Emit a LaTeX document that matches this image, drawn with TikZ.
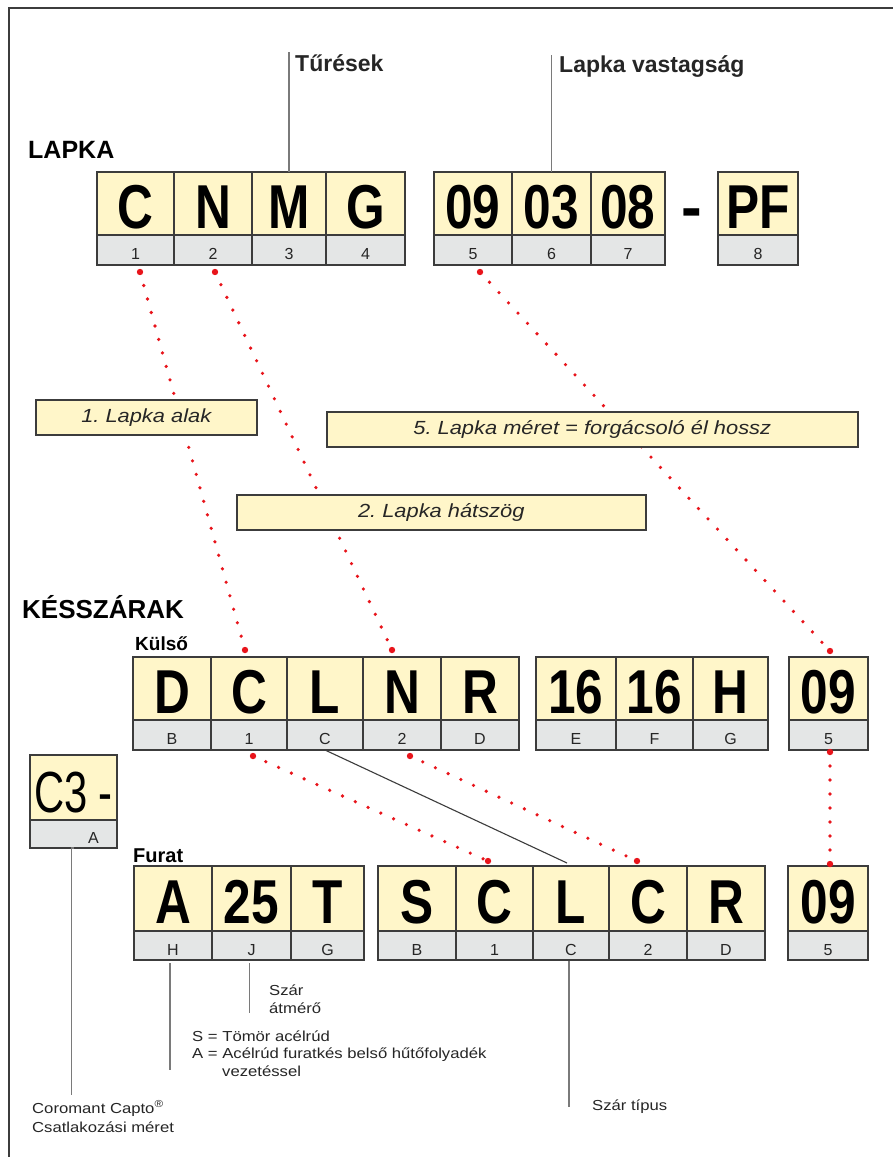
\documentclass[tikz,border=0pt]{standalone}
\usepackage{fontspec}
\usepackage{graphicx}
\setmainfont{Liberation Sans}
\newfontfamily\widef[FakeStretch=1.15]{Liberation Sans}
\usetikzlibrary{calc}
\definecolor{cellyellow}{HTML}{FFF6C9}
\definecolor{cellgray}{HTML}{E4E6E6}
\definecolor{edge}{HTML}{3C3C3C}
\definecolor{dotred}{HTML}{E8141B}
\definecolor{ink}{HTML}{262626}
\definecolor{leader}{HTML}{7A7A7A}
\newcommand\bigf{\fontsize{62}{62}\selectfont\bfseries}
\newcommand\bigfr{\fontsize{58}{58}\selectfont}
\newcommand\lblf{\fontsize{16}{16}\selectfont}
\newcommand\boxf{\frenchspacing\widef\fontsize{19}{19}\selectfont\itshape}
\newcommand\smallf{\widef\fontsize{14.5}{14.5}\selectfont}
% name, x, top, mid, bottom, width, letter, label
\newcommand\mkcell[8]{%
  \node[lcell, minimum width=#6, minimum height=#4-#3] (#1) at (#2,#3) {\scalebox{0.8}[1]{#7}};
  \node[ncell, minimum width=#6, minimum height=#5-#4] (#1n) at (#2,#4) {#8};
}
\begin{document}
\frenchspacing
\begin{tikzpicture}[x=1pt,y=-1pt,
  lcell/.style={draw=edge, fill=cellyellow, line width=1.3pt, anchor=north west, inner sep=0pt, outer sep=0pt, text height=50pt, text depth=0pt, font=\bigf, text=black},
  ncell/.style={draw=edge, fill=cellgray, line width=1.3pt, anchor=north west, inner sep=0pt, outer sep=0pt, text height=19pt, text depth=0pt, font=\lblf, text=ink},
  infobox/.style={draw=edge, fill=cellyellow, line width=1.5pt, anchor=north west, inner sep=0pt, font=\boxf, text=ink},
  heading/.style={anchor=base west, inner sep=0pt, text=black},
  note/.style={anchor=base west, inner sep=0pt, font=\smallf, text=ink},
  reddots/.style={draw=dotred, line width=3.6pt, line cap=round, dash pattern=on 0pt off 14pt},
  enddot/.style={fill=dotred},
  leaderline/.style={draw=leader, line width=1.2pt}
]
\useasboundingbox (0,0) rectangle (893,1157);
\fill[white] (0,0) rectangle (893,1157);
% frame
\draw[edge, line width=2pt] (9,1157) -- (9,8) -- (893,8);

% ---- LAPKA row
\mkcell{L1}{97}{172}{235}{265}{77}{C}{1}
\mkcell{L2}{174}{172}{235}{265}{78}{N}{2}
\mkcell{L3}{252}{172}{235}{265}{74}{M}{3}
\mkcell{L4}{326}{172}{235}{265}{79}{G}{4}
\mkcell{L5}{434}{172}{235}{265}{78}{09}{5}
\mkcell{L6}{512}{172}{235}{265}{79}{03}{6}
\mkcell{L7}{591}{172}{235}{265}{74}{08}{7}
\mkcell{L8}{718}{172}{235}{265}{80}{PF}{8}
\node[anchor=base, inner sep=0pt, font=\bigf] (dash) at (692,228) {-};

% ---- Kulso row
\mkcell{K1}{133}{657}{720}{750}{78}{D}{B}
\mkcell{K2}{211}{657}{720}{750}{76}{C}{1}
\mkcell{K3}{287}{657}{720}{750}{76}{L}{C}
\mkcell{K4}{363}{657}{720}{750}{78}{N}{2}
\mkcell{K5}{441}{657}{720}{750}{78}{R}{D}
\mkcell{K6}{536}{657}{720}{750}{80}{16}{E}
\mkcell{K7}{616}{657}{720}{750}{77}{16}{F}
\mkcell{K8}{693}{657}{720}{750}{75}{H}{G}
\mkcell{K9}{789}{657}{720}{750}{79}{09}{5}

% ---- C3- cell
\node[lcell, font=\bigfr, minimum width=87, minimum height=65] (C3) at (30,755) {\scalebox{0.72}[1]{C3 -}};
\node[ncell, minimum width=87, minimum height=28] (C3n) at (30,820) {\hspace*{40pt}A};

% ---- Furat row
\mkcell{FA}{134}{866}{931}{960}{78}{A}{H}
\mkcell{FB}{212}{866}{931}{960}{79}{25}{J}
\mkcell{FC}{291}{866}{931}{960}{73}{T}{G}
\mkcell{S1}{378}{866}{931}{960}{78}{S}{B}
\mkcell{S2}{456}{866}{931}{960}{77}{C}{1}
\mkcell{S3}{533}{866}{931}{960}{76}{L}{C}
\mkcell{S4}{609}{866}{931}{960}{78}{C}{2}
\mkcell{S5}{687}{866}{931}{960}{78}{R}{D}
\mkcell{S6}{788}{866}{931}{960}{80}{09}{5}

% ---- dotted connectors
\coordinate (d1a) at ($(L1n.south)+(4.5,7)$);
\coordinate (d1b) at ($(K2.north)+(-4,-7)$);
\coordinate (d2a) at ($(L2n.south)+(2,7)$);
\coordinate (d2b) at ($(K4.north)+(-10,-7)$);
\coordinate (d5a) at ($(L5n.south)+(7,7)$);
\coordinate (d5b) at ($(K9.north)+(1.5,-6)$);
\coordinate (e1a) at ($(K2n.south)+(4,6)$);
\coordinate (e1b) at ($(S2.north)+(-6.5,-5)$);
\coordinate (e2a) at ($(K4n.south)+(8,6)$);
\coordinate (e2b) at ($(S4.north)+(-11,-5)$);
\coordinate (e5a) at ($(K9n.south)+(1.5,2)$);
\coordinate (e5b) at ($(S6.north)+(2,-2)$);
\draw[reddots] (d1a) -- (d1b);
\draw[reddots] (d2a) -- (d2b);
\draw[reddots] (d5a) -- (d5b);
\draw[reddots] (e1a) -- (e1b);
\draw[reddots] (e2a) -- (e2b);
\draw[reddots] (e5a) -- (e5b);
\foreach \p in {d1a,d1b,d2a,d2b,d5a,d5b,e1a,e1b,e2a,e2b,e5a,e5b}
  \fill[enddot] (\p) circle (3.2);

% solid connector Kulso L -> Furat L
\draw[draw=edge, line width=1.1pt] (K3n.south) -- ($(S3.north)+(-4,-3)$);

% ---- info boxes
\node[infobox, minimum width=221, minimum height=35] (b1) at (35,399) {1. Lapka alak};
\node[infobox, minimum width=531, minimum height=35] (b5) at (326,411) {5. Lapka méret = forgácsoló él hossz};
\node[infobox, minimum width=409, minimum height=35] (b2) at (236,494) {2. Lapka hátszög};

% ---- headings
\node[heading, font=\fontsize{25}{25}\selectfont\bfseries] (lapka) at (28,158) {LAPKA};
\node[heading, font=\fontsize{26}{26}\selectfont\bfseries] (kesszarak) at (22,618) {KÉSSZÁRAK};
\node[heading, font=\fontsize{19}{19}\selectfont\bfseries] (kulso) at (135,650) {Külső};
\node[heading, font=\fontsize{20}{20}\selectfont\bfseries] (furat) at (133,862) {Furat};
\node[heading, font=\fontsize{23}{23}\selectfont\bfseries, text=ink] (tures) at (295,71) {Tűrések};
\node[heading, font=\fontsize{23}{23}\selectfont\bfseries, text=ink] (vastag) at (559,72) {Lapka vastagság};

% ---- leader lines
\draw[leaderline] (L3.north) -- ++(0,-120);
\draw[leaderline] (L6.north) -- ++(0,-117);
\draw[leaderline] (C3n.south) -- ++(-2,0) -- ++(0,247);
\draw[leaderline] ($(FAn.south)+(-3,3)$) -- ++(0,107);
\draw[leaderline] ($(FBn.south)+(-2,3)$) -- ++(0,50);
\draw[leaderline] ($(S3n.south)+(-2,1)$) -- ++(0,146);

% ---- notes
\node[note] (n1) at (269,995) {Szár};
\node[note] (n2) at (269,1013) {átmérő};
\node[note] (n3) at (192,1041) {S = Tömör acélrúd};
\node[note] (n4) at (192,1058) {A = Acélrúd furatkés belső hűtőfolyadék};
\node[note] (n5) at (222,1076) {vezetéssel};
\node[note] (n6) at (32,1113) {Coromant Capto\textsuperscript{®}};
\node[note] (n7) at (32,1132) {Csatlakozási méret};
\node[note] (n8) at (592,1110) {Szár típus};
\end{tikzpicture}
\end{document}
